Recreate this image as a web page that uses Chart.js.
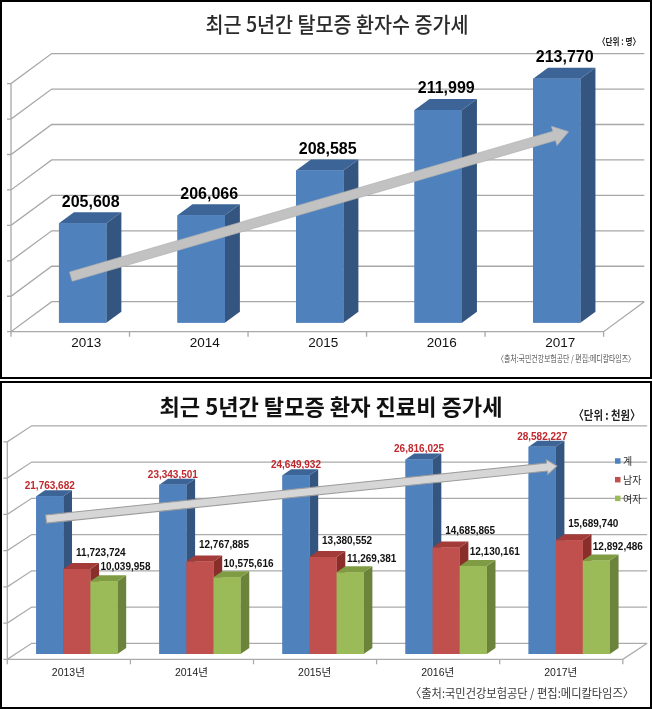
<!DOCTYPE html>
<html>
<head>
<meta charset="utf-8">
<script src="https://cdn.jsdelivr.net/npm/chart.js@4.4.1/dist/chart.umd.min.js"></script>
<style>
  html, body { margin: 0; padding: 0; background: #fff; }
  body { position: relative; width: 652px; height: 709px; overflow: hidden; }
  canvas { position: absolute; left: 0; }
  .frame { position: absolute; left: 0; width: 652px; box-sizing: border-box; border: 2px solid #000; pointer-events: none; }
  .txt { position: absolute; white-space: nowrap; line-height: 1; font-family: 'Noto Sans CJK KR', sans-serif; }
</style>
</head>
<body>
<canvas id="patients" width="652" height="379" style="top:0;width:652px;height:379px"></canvas>
<canvas id="costs" width="652" height="328" style="top:381px;width:652px;height:328px"></canvas>
<div class="frame" style="top:0;height:379px"></div>
<div class="frame" style="top:381px;height:328px"></div>

<div class="txt" data-w="263" style="left:336.7px;top:23.3px;font-size:21px;font-weight:500;color:#2a2a2a">최근 5년간 탈모증 환자수 증가세</div>
<div class="txt" data-w="42" style="left:619px;top:41.7px;font-size:9.5px;font-weight:bold;color:#222">〈단위 : 명〉</div>
<div class="txt" data-w="138" style="left:566px;top:358.3px;font-size:9px;color:#555">〈출처:국민건강보험공단 / 편집:메디칼타임즈〉</div>

<div class="txt" data-w="343" style="left:331.4px;top:405px;font-size:22px;font-weight:bold;color:#111">최근 5년간 탈모증 환자 진료비 증가세</div>
<div class="txt" data-w="67" style="left:606.7px;top:415px;font-size:12.5px;font-weight:bold;color:#222">〈단위 : 천원〉</div>
<div class="txt" data-w="224" style="left:521.8px;top:693.3px;font-size:12px;color:#383838">〈출처:국민건강보험공단 / 편집:메디칼타임즈〉</div>

<script>
// 탈모증 환자수 (명)
const patientYears = ['2013', '2014', '2015', '2016', '2017'];
const patientCounts = [205608, 206066, 208585, 211999, 213770];
const patientAxis = [200000, 214000, 2000]; // 최소, 최대, 간격
// 추세 화살표: [카테고리 위치, 값]
const patientTrend = [[-0.1, 202600], [4.1, 210780]];

// 탈모증 진료비 (천원)
const costYears = ['2013년', '2014년', '2015년', '2016년', '2017년'];
const costTotal = [21763682, 23343501, 24649932, 26816025, 28582227];
const costMale = [11723724, 12767885, 13380552, 14685865, 15689740];
const costFemale = [10039958, 10575616, 11269381, 12130161, 12892486];
const costAxis = [0, 30000000, 5000000];
const costTrend = [[-0.25, 18620000], [3.9, 25930000]];

// 제목 글자 폭 맞추기
document.querySelectorAll('.txt').forEach(el => {
  const w = el.getBoundingClientRect().width;
  const s = el.dataset.w / w;
  el.style.transform = `translate(-50%,-50%) scaleX(${s})`;
});

// 3D 막대 흉내내는 플러그인 (뒷벽 격자, 바닥, 옆면/윗면, 값 라벨, 화살표)
const box3d = {
  id: 'box3d',
  beforeDatasetsDraw(chart, args, o) {
    const ctx = chart.ctx;
    const { left, right } = chart.chartArea;
    const xs = chart.scales.x, ys = chart.scales.y;
    const [bx, by] = o.back, [fx, fy] = o.front;
    const base = ys.getPixelForValue(ys.min);
    const top = ys.getPixelForValue(ys.max);
    ctx.save();
    ctx.strokeStyle = o.gridColor;
    ctx.lineWidth = o.gridWidth;
    ctx.beginPath();
    ys.ticks.forEach(t => {
      const py = ys.getPixelForValue(t.value);
      ctx.moveTo(left + fx - 4, py + fy);
      ctx.lineTo(left + fx, py + fy);
      ctx.lineTo(left + bx, py + by);
      ctx.lineTo(right + bx, py + by);
    });
    ctx.moveTo(left + fx, top + fy);
    ctx.lineTo(left + fx, base + fy);
    ctx.lineTo(right + fx, base + fy);
    ctx.lineTo(right + bx, base + by);
    for (let i = 0; i <= chart.data.labels.length; i++) {
      const px = xs.getPixelForValue(i - 0.5) + fx;
      ctx.moveTo(px, base + fy);
      ctx.lineTo(px, base + fy + 5);
    }
    ctx.stroke();
    ctx.restore();
  },
  afterDatasetsDraw(chart, args, o) {
    const ctx = chart.ctx;
    const [dx, dy] = o.depth;
    const n = chart.data.labels.length;
    ctx.save();
    // 왼쪽부터 옆면, 윗면, 앞면 순서로 다시 그림
    for (let i = 0; i < n; i++) {
      chart.data.datasets.forEach((ds, d) => {
        const el = chart.getDatasetMeta(d).data[i];
        const { x, y, base, width } = el.getProps(['x', 'y', 'base', 'width'], true);
        const l = x - width / 2, r = x + width / 2;
        const face = o.faces[d];
        ctx.fillStyle = face.side;
        ctx.beginPath();
        ctx.moveTo(r, y); ctx.lineTo(r + dx, y + dy); ctx.lineTo(r + dx, base + dy); ctx.lineTo(r, base);
        ctx.closePath(); ctx.fill();
        ctx.fillStyle = face.top;
        ctx.beginPath();
        ctx.moveTo(l, y); ctx.lineTo(l + dx, y + dy); ctx.lineTo(r + dx, y + dy); ctx.lineTo(r, y);
        ctx.closePath(); ctx.fill();
        el.draw(ctx);
      });
    }

    // 값 라벨
    ctx.textAlign = 'center';
    ctx.textBaseline = 'middle';
    chart.data.datasets.forEach((ds, d) => {
      const lab = o.labels[d];
      ctx.font = lab.font;
      ctx.fillStyle = lab.color;
      chart.getDatasetMeta(d).data.forEach((el, i) => {
        ctx.fillText(ds.data[i].toLocaleString('en-US'), el.x + lab.dx, el.y + lab.dy);
      });
    });

    // 추세 화살표
    const a = o.arrow;
    if (a) {
      const xs = chart.scales.x, ys = chart.scales.y;
      const x0 = xs.getPixelForValue(a.from[0]), y0 = ys.getPixelForValue(a.from[1]);
      const x1 = xs.getPixelForValue(a.to[0]), y1 = ys.getPixelForValue(a.to[1]);
      const len = Math.hypot(x1 - x0, y1 - y0);
      ctx.save();
      ctx.translate(x0, y0);
      ctx.rotate(Math.atan2(y1 - y0, x1 - x0));
      ctx.beginPath();
      ctx.moveTo(0, -a.half);
      ctx.lineTo(len - a.headLen, -a.half);
      ctx.lineTo(len - a.headLen, -a.head);
      ctx.lineTo(len, 0);
      ctx.lineTo(len - a.headLen, a.head);
      ctx.lineTo(len - a.headLen, a.half);
      ctx.lineTo(0, a.half);
      ctx.closePath();
      ctx.fillStyle = a.fill;
      ctx.fill();
      ctx.strokeStyle = a.stroke;
      ctx.lineWidth = a.strokeWidth;
      ctx.stroke();
      ctx.restore();
    }

    // 범례
    const L = o.legend;
    if (L) {
      ctx.textAlign = 'left';
      ctx.font = L.font;
      chart.data.datasets.forEach((ds, d) => {
        const yy = L.y + d * L.gap;
        ctx.fillStyle = ds.backgroundColor;
        ctx.fillRect(L.x, yy - L.box / 2, L.box, L.box);
        ctx.fillStyle = L.color;
        ctx.fillText(ds.label, L.x + L.box + 2.5, yy + 0.5);
      });
    }
    ctx.restore();
  }
};

const blueFace = { side: '#34557f', top: '#3c6496' };
const redFace = { side: '#8a2e2b', top: '#a33b38' };
const greenFace = { side: '#6b833a', top: '#7f9c45' };

// 환자수 차트
new Chart(document.getElementById('patients'), {
  type: 'bar',
  data: {
    labels: patientYears,
    datasets: [{
      label: '환자수',
      data: patientCounts,
      base: patientAxis[0],
      backgroundColor: '#4f81bd',
      categoryPercentage: 0.4,
      barPercentage: 1
    }]
  },
  options: {
    responsive: false,
    animation: false,
    layout: { padding: { left: 23.4, right: 36, top: 74.6, bottom: 15.1 } },
    plugins: {
      legend: { display: false },
      tooltip: { enabled: false },
      box3d: {
        back: [28.3, -21],
        front: [-12.4, 9],
        depth: [15, -11],
        gridColor: '#a8a8a8',
        gridWidth: 1.3,
        faces: [blueFace],
        labels: [{ font: "bold 16px 'Liberation Sans', sans-serif", color: '#000', dx: 8, dy: -21 }],
        arrow: { from: patientTrend[0], to: patientTrend[1], half: 4.8, head: 10, headLen: 15,
                 fill: '#c2c2c2', stroke: '#b0b0b0', strokeWidth: 0.6 }
      }
    },
    scales: {
      x: {
        grid: { display: false, drawTicks: false },
        border: { display: false },
        ticks: { padding: 12.5, labelOffset: 3.5, color: '#111',
                 font: { family: "'Liberation Sans', sans-serif", size: 13.5 } }
      },
      y: { display: false, beginAtZero: false, min: patientAxis[0], max: patientAxis[1], ticks: { stepSize: patientAxis[2] } }
    }
  },
  plugins: [box3d]
});

// 진료비 차트
new Chart(document.getElementById('costs'), {
  type: 'bar',
  data: {
    labels: costYears,
    datasets: [
      { label: '계', data: costTotal, backgroundColor: '#4f81bd', categoryPercentage: 0.66, barPercentage: 1 },
      { label: '남자', data: costMale, backgroundColor: '#c0504d', categoryPercentage: 0.66, barPercentage: 1 },
      { label: '여자', data: costFemale, backgroundColor: '#9bbb59', categoryPercentage: 0.66, barPercentage: 1 }
    ]
  },
  options: {
    responsive: false,
    animation: false,
    layout: { padding: { left: 15.3, right: 21.2, top: 55.5, bottom: 16.4 } },
    plugins: {
      legend: { display: false },
      tooltip: { enabled: false },
      box3d: {
        back: [16.4, -10.7],
        front: [-8, 5.3],
        depth: [8.7, -6],
        gridColor: '#ababab',
        gridWidth: 1.3,
        faces: [blueFace, redFace, greenFace],
        labels: [
          { font: "bold 10px 'Liberation Sans', sans-serif", color: '#c0282d', dx: 0, dy: -10 },
          { font: "bold 10px 'Liberation Sans', sans-serif", color: '#111', dx: 24, dy: -16 },
          { font: "bold 10px 'Liberation Sans', sans-serif", color: '#111', dx: 21.5, dy: -13.5 }
        ],
        arrow: { from: costTrend[0], to: costTrend[1], half: 4.1, head: 7.5, headLen: 10,
                 fill: '#d6d6d6', stroke: '#9c9c9c', strokeWidth: 1 },
        legend: { x: 615, y: 80, gap: 18.7, box: 5.5, font: "10px 'Noto Sans CJK KR', sans-serif", color: '#333' }
      }
    },
    scales: {
      x: {
        grid: { display: false, drawTicks: false },
        border: { display: false },
        ticks: { padding: 13, labelOffset: -8.5, color: '#222',
                 font: { family: "'Liberation Sans', 'Noto Sans CJK KR', sans-serif", size: 10.5 } }
      },
      y: { display: false, min: costAxis[0], max: costAxis[1], ticks: { stepSize: costAxis[2] } }
    }
  },
  plugins: [box3d]
});
</script>
</body>
</html>
